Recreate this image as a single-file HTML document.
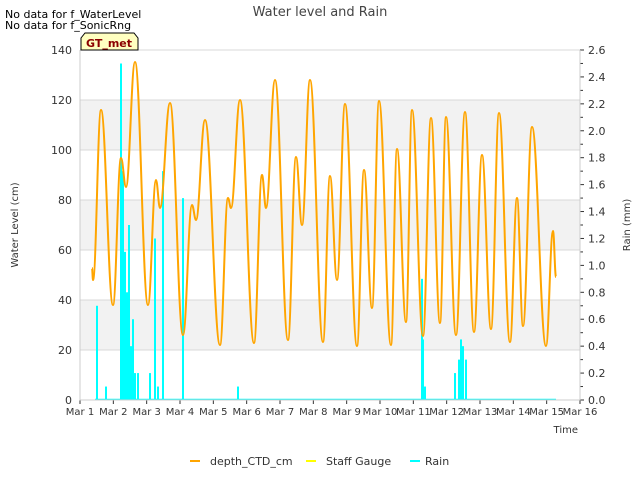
<!DOCTYPE html>
<html><head><meta charset="utf-8"><style>
body{margin:0;background:#fff;font-family:"DejaVu Sans","Liberation Sans",sans-serif}
svg text{font-family:"DejaVu Sans","Liberation Sans",sans-serif}
</style></head><body>
<svg id="c" width="640" height="480" xmlns="http://www.w3.org/2000/svg">
<rect width="640" height="480" fill="#fff"/>
<g id="grid"></g>
<g id="series"></g>
<g id="axes"></g>
<text x="320" y="16" text-anchor="middle" font-size="13" fill="#444">Water level and Rain</text>
<text x="5" y="18" font-size="11" fill="#000">No data for f_WaterLevel</text>
<text x="5" y="29" font-size="11" fill="#000">No data for f_SonicRng</text>
<g>
<path d="M81,50 L81,38 L85,33 L134,33 L138,38 L138,50 Z" fill="#ffffc0" stroke="#000" stroke-width="1"/>
<text x="109" y="47" text-anchor="middle" font-size="11" font-weight="bold" fill="#8b0000">GT_met</text>
</g>
<text transform="translate(18,225) rotate(-90)" text-anchor="middle" font-size="10" fill="#333">Water Level (cm)</text>
<text transform="translate(630,225) rotate(-90)" text-anchor="middle" font-size="10" fill="#333">Rain (mm)</text>
<text x="578" y="433" text-anchor="end" font-size="10" fill="#333">Time</text>
<g>
<g><line x1="190" y1="461" x2="200" y2="461" stroke="#ffa500" stroke-width="2"/><text x="210" y="465" font-size="11" fill="#333">depth_CTD_cm</text></g>
<g><line x1="306" y1="461" x2="316" y2="461" stroke="#ffff00" stroke-width="2"/><text x="326" y="465" font-size="11" fill="#333">Staff Gauge</text></g>
<g><line x1="410" y1="461" x2="420" y2="461" stroke="#00ffff" stroke-width="2"/><text x="425" y="465" font-size="11" fill="#333">Rain</text></g>
</g>
</svg>
<script>
const xTicks=["Mar 1","Mar 2","Mar 3","Mar 4","Mar 5","Mar 6","Mar 7","Mar 8","Mar 9","Mar 10","Mar 11","Mar 12","Mar 13","Mar 14","Mar 15","Mar 16"];
const leftTicks=[0,20,40,60,80,100,120,140];
const rightTicks=[0,0.2,0.4,0.6,0.8,1.0,1.2,1.4,1.6,1.8,2.0,2.2,2.4,2.6];
// depth extrema: days since Mar 1, cm
const depthDays=[0.36,0.39,0.63,0.99,1.23,1.38,1.65,2.04,2.28,2.4,2.7,3.09,3.36,3.48,3.75,4.2,4.44,4.53,4.8,5.22,5.46,5.58,5.85,6.24,6.48,6.66,6.9,7.29,7.5,7.71,7.95,8.31,8.52,8.76,8.97,9.33,9.51,9.78,9.96,10.29,10.53,10.8,10.98,11.28,11.55,11.82,12.06,12.33,12.57,12.9,13.11,13.29,13.56,13.98,14.19,14.28];
const depthVals=[52.8,48,116,38,96.8,85.2,135.2,38,88,76.8,118.8,26,78,72,112,22,80.8,76.8,120,22.8,90,76.8,128,24,97.2,70,128,23.2,89.6,48,118.4,21.6,92,36.8,119.6,22,100.4,31.2,116,25.6,112.8,30.8,113.2,26,115.2,27.2,98,28.4,114.8,23.2,80.8,29.6,109.2,21.6,67.6,49.2];
const rainDays=[0.51,0.78,1.23,1.29,1.35,1.41,1.47,1.53,1.59,1.65,1.74,2.1,2.25,2.34,2.49,3.09,4.74,10.26,10.29,10.35,11.25,11.37,11.43,11.49,11.58];
const rainVals=[0.70,0.10,2.50,1.70,1.10,0.80,1.30,0.40,0.60,0.20,0.20,0.20,1.20,0.10,1.70,1.50,0.10,0.90,0.45,0.10,0.20,0.30,0.45,0.40,0.30];
const X0=80,X1=580,Y0=400,Y1=50;
const xs=d=>X0+d*(X1-X0)/15;
const yl=v=>Y0-v*(Y0-Y1)/140;
const yr=v=>Y0-v*(Y0-Y1)/2.6;
const NS="http://www.w3.org/2000/svg";
function mk(tag,attrs,parent){const e=document.createElementNS(NS,tag);for(const k in attrs)e.setAttribute(k,attrs[k]);parent.appendChild(e);return e;}
const grid=document.getElementById('grid'),axes=document.getElementById('axes'),ser=document.getElementById('series');
for(let i=0;i<leftTicks.length-1;i++){
  if(i%2===1){const r=mk('rect',{x:X0,y:yl(leftTicks[i+1]),width:X1-X0,height:yl(leftTicks[i])-yl(leftTicks[i+1]),fill:'#f2f2f2'},grid);
  
  }
}
leftTicks.forEach(v=>{
  const l=mk('line',{x1:X0,x2:X1,y1:yl(v),y2:yl(v),stroke:'#d8d8d8','stroke-width':1},grid);
  
  
  const t=mk('text',{x:X0-8,y:yl(v)+4,'text-anchor':'end','font-size':11,fill:'#333'},axes);
  t.textContent=v;
  
  
});
rightTicks.forEach(v=>{
  const t=mk('text',{x:X1+8,y:yr(v)+4,'font-size':11,fill:'#333'},axes);
  t.textContent=v.toFixed(1);
  
  
  const l=mk('line',{x1:X1,x2:X1+4,y1:yr(v),y2:yr(v),stroke:'#333'},axes);
  
  
  if(v<2.6){const m=mk('line',{x1:X1,x2:X1+3,y1:yr(v+0.1),y2:yr(v+0.1),stroke:'#333'},axes);
  
  }
});
xTicks.forEach((s,i)=>{
  const t=mk('text',{x:xs(i),y:Y0+15,'text-anchor':'middle','font-size':10,fill:'#333'},axes);
  t.textContent=s;
  
  
  const l=mk('line',{x1:xs(i),x2:xs(i),y1:Y0,y2:Y0+4,stroke:'#333'},axes);
  
  
});
const ax=mk('path',{d:`M${X0},${Y1}V${Y0}H${X1}V${Y1}`,fill:'none',stroke:'#ccc'},axes);


const base=mk('line',{x1:xs(0.45),x2:xs(14.28),y1:Y0-0.5,y2:Y0-0.5,stroke:'#00ffff','stroke-width':1.5},ser);


rainDays.forEach((d,i)=>{
  const b=mk('line',{x1:xs(d),x2:xs(d),y1:Y0,y2:yr(rainVals[i]),stroke:'#00ffff','stroke-width':2},ser);
  
  
});
const pts=depthDays.map((d,i)=>[xs(d),yl(depthVals[i])]);
let p=`M${pts[0][0]},${pts[0][1]}`;
for(let i=0;i<pts.length-1;i++){
  const b=pts[i],c=pts[i+1],dx=(c[0]-b[0])*0.4;
  p+=`C${b[0]+dx},${b[1]} ${c[0]-dx},${c[1]} ${c[0]},${c[1]}`;
}
const dl=mk('path',{d:p,fill:'none',stroke:'#ffa500','stroke-width':2},ser);


</script>
</body></html>
